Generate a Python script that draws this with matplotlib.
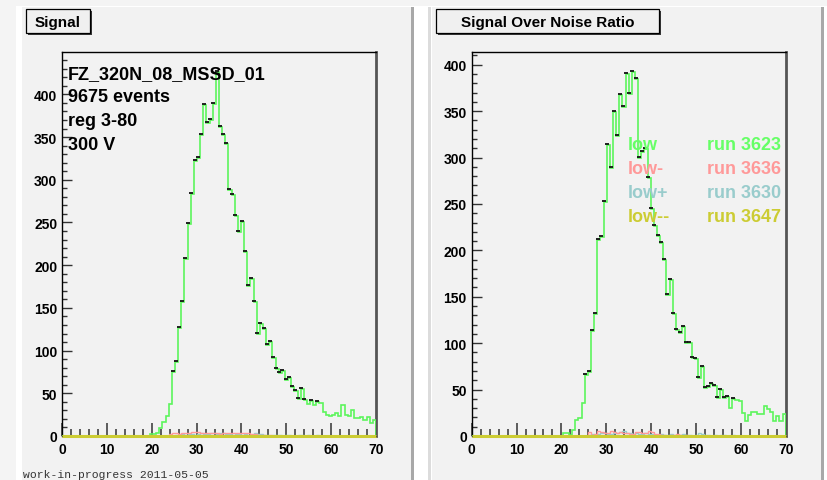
import matplotlib
matplotlib.use("Agg")
import matplotlib.pyplot as plt
from matplotlib.patches import Rectangle
from matplotlib.transforms import offset_copy
from matplotlib.ticker import MultipleLocator
import numpy as np

plt.rcParams['font.family'] = ['Liberation Sans', 'DejaVu Sans']

W, H = 827, 481
N_BINS = 100
X_MIN, X_MAX = 0, 70

def pad(start, vals):
    out = [0] * start + list(vals)
    return out + [0] * (N_BINS - len(out))

# ---------------- data ----------------
sig_low = pad(28, [2, 2, 3, 9, 16, 23, 38, 75, 87, 127,
                   157, 207, 248, 283, 322, 326, 352, 387, 366, 370,
                   389, 426, 362, 352, 342, 288, 282, 258, 239, 250,
                   215, 176, 184, 157, 119, 131, 125, 107, 110, 91,
                   78, 74, 76, 65, 68, 57, 53, 43, 55, 42,
                   37, 41, 36, 40, 39, 28, 25, 23, 25, 27,
                   24, 36, 25, 24, 30, 21, 21, 22, 19, 22,
                   15, 19])
sig_lowm = pad(34, [2, 3, 3, 2, 4, 4, 3, 5, 5, 5, 4, 3, 3, 4, 4, 3, 2, 3, 3, 4,
                    3, 4, 4, 3, 4, 4, 2, 2, 1, 1, 1, 0, 1])
sig_lowp = pad(36, [1, 1, 2, 1, 2, 2, 1, 2, 3, 2, 2, 3, 3, 2, 3, 3, 2, 2, 1, 2,
                    2, 1, 2, 1, 1, 3, 2, 2, 1, 1, 0, 1, 1, 1, 0, 1, 1, 0, 0, 1,
                    1, 0, 1, 0, 0, 1, 0])
sig_lowmm = pad(0, [])

snr_low = pad(29, [3, 3, 1, 6, 17, 19, 36, 66, 69, 113,
                   131, 211, 214, 252, 314, 289, 349, 323, 367, 354,
                   390, 368, 392, 385, 300, 306, 309, 278, 245, 226,
                   215, 208, 190, 152, 168, 131, 114, 111, 117, 100,
                   100, 84, 83, 62, 74, 52, 53, 56, 54, 41,
                   50, 41, 42, 30, 40, 39, 38, 25, 16, 23,
                   26, 26, 24, 24, 32, 29, 26, 16, 22, 16,
                   24])
snr_lowm = pad(36, [0, 4, 1, 2, 5, 4, 3, 3, 5, 4, 3, 4, 3, 3, 2, 2, 4, 4, 3, 3,
                    5, 4, 2, 2, 1, 1, 0, 1, 1, 2, 1, 0, 1])
snr_lowp = pad(37, [1, 2, 1, 2, 3, 3, 2, 2, 3, 3, 4, 5, 3, 3, 2, 3, 2, 2, 3, 2,
                    2, 1, 1, 2, 1, 1, 2, 1, 0, 1, 2, 1, 1, 0, 1, 3, 2, 1, 1, 0,
                    1, 0, 1, 1, 0, 0, 1, 0, 0])
snr_lowmm = pad(0, [])

legend_names = ["low", "low-", "low+", "low--"]
legend_runs = ["run 3623", "run 3636", "run 3630", "run 3647"]
colors = ["#66ff66", "#ff9999", "#99cccc", "#cccc33"]

info_lines = ["FZ_320N_08_MSSD_01", "9675 events", "reg 3-80", "300 V"]
titles = ["Signal", "Signal Over Noise Ratio"]
footer = "work-in-progress 2011-05-05"

edges = np.linspace(X_MIN, X_MAX, N_BINS + 1)

# ---------------- figure ----------------
fig = plt.figure(figsize=(W / 100, H / 100), dpi=100)
fig.patch.set_facecolor("white")

def fx(px):
    return px / W

def fy(py):
    return 1 - py / H

def rect_px(x0, y0, x1, y1, **kw):
    r = Rectangle((fx(x0), fy(y1)), fx(x1) - fx(x0), fy(y0) - fy(y1),
                  transform=fig.transFigure, **kw)
    fig.patches.append(r)
    return r

# background strips (screenshot border)
rect_px(0, 0, W, 7, facecolor="#f4f4f4", edgecolor="none", zorder=-5)
rect_px(0, 0, 16, H, facecolor="#f4f4f4", edgecolor="none", zorder=-5)
# pads
PAD_BG = "#f2f2f2"
rect_px(22, 8, 411, H, facecolor=PAD_BG, edgecolor="none", zorder=-5)
rect_px(411, 8, 414, H, facecolor="#a8a8a8", edgecolor="none", zorder=-5)
rect_px(432, 8, 821, H, facecolor=PAD_BG, edgecolor="none", zorder=-5)
rect_px(821, 8, 824, H, facecolor="#a8a8a8", edgecolor="none", zorder=-5)
rect_px(428, 8, 431, H, facecolor="#dcdcdc", edgecolor="none", zorder=-5)

panels = [
    dict(x0=62.0, series=[sig_low, sig_lowm, sig_lowp, sig_lowmm], ymax=449.6,
         box=(26, 10, 90, 34), title=titles[0]),
    dict(x0=471.7, series=[snr_low, snr_lowm, snr_lowp, snr_lowmm], ymax=413.7,
         box=(436, 10, 659, 34), title=titles[1]),
]

AX_TOP, AX_BOT, AX_W = 53.0, 437.0, 314.0
bin_w = edges[1] - edges[0]

for p in panels:
    ax = fig.add_axes([fx(p["x0"]), fy(AX_BOT), AX_W / W, (AX_BOT - AX_TOP) / H])
    ax.set_zorder(1)
    ax.set_facecolor(PAD_BG)
    ax.set_xlim(X_MIN, X_MAX)
    ax.set_ylim(0, p["ymax"])

    low, lowm, lowp, lowmm = p["series"]
    low_arr = np.asarray(low, dtype=float)
    marked = low_arr >= 40
    # small black marks at top-left of the filled bins (ROOT-like outline)
    black_tr = offset_copy(ax.transData, fig=fig, x=-0.3, y=1.0, units="dots")
    ax.plot(edges[:-1][marked] + 0.3 * bin_w, low_arr[marked], ls="none",
            marker="_", ms=2.4, mew=1.3, color="#111111", transform=black_tr,
            zorder=5)
    ax.stairs(lowp, edges, color=colors[2], lw=1.0, zorder=2)
    ax.stairs(lowm, edges, color=colors[1], lw=1.0, zorder=2)
    ax.stairs(low, edges, color="#5cf55c", lw=1.2, zorder=4)
    ax.stairs(lowmm, edges, color=colors[3], lw=2.2, zorder=6, clip_on=False)

    for s in ["left", "top"]:
        ax.spines[s].set_color("black")
        ax.spines[s].set_linewidth(1.0)
    ax.spines["bottom"].set_color("black")
    ax.spines["right"].set_color("#555555")
    ax.spines["right"].set_linewidth(2.0)

    ax.xaxis.set_major_locator(MultipleLocator(10))
    ax.xaxis.set_minor_locator(MultipleLocator(2))
    ax.yaxis.set_major_locator(MultipleLocator(50))
    ax.yaxis.set_minor_locator(MultipleLocator(10))
    ax.tick_params(axis="x", which="major", direction="in", length=9.4, width=1.1,
                   color="#333333", pad=4.5, top=False)
    ax.tick_params(axis="x", which="minor", direction="in", length=5.0, width=1.1,
                   color="#333333", top=False)
    ax.tick_params(axis="y", which="major", direction="in", length=7.2, width=1.0,
                   color="#333333", pad=3.5, right=False)
    ax.tick_params(axis="y", which="minor", direction="in", length=3.6, width=1.0,
                   color="#333333", right=False)
    for lab in ax.get_xticklabels() + ax.get_yticklabels():
        lab.set_fontfamily("Liberation Sans")
        lab.set_fontweight("bold")
        lab.set_fontsize(10)

    # title box with shadow
    bx0, by0, bx1, by1 = p["box"]
    rect_px(bx0 + 2, by0 + 2, bx1 + 2, by1 + 2, facecolor="#3a3a3a",
            edgecolor="none", zorder=5)
    rect_px(bx0, by0, bx1, by1, facecolor="#f0f0f0", edgecolor="black",
            lw=0.9, zorder=6)
    fig.text(fx((bx0 + bx1) / 2), fy(26.7), p["title"], ha="center",
             va="baseline", fontsize=11, fontweight="bold", zorder=7)

# info text on left panel
for txt, base in zip(info_lines, [79, 102.5, 126.5, 150]):
    fig.text(fx(68), fy(base), txt, ha="left", va="baseline", fontsize=13,
             fontweight="bold", color="black", zorder=8)

# legend text on right panel
for name, run, col, base in zip(legend_names, legend_runs, colors,
                                [150, 174, 198, 222]):
    fig.text(fx(628), fy(base), name, ha="left", va="baseline", fontsize=13,
             fontweight="bold", color=col, zorder=8)
    fig.text(fx(707), fy(base), run, ha="left", va="baseline", fontsize=13,
             fontweight="bold", color=col, zorder=8)

fig.text(fx(23), fy(478.5), footer, ha="left", va="baseline",
         family="Liberation Mono", fontsize=8.2, color="#333333", zorder=8)

fig.savefig("out.png", dpi=100, facecolor=fig.get_facecolor())
